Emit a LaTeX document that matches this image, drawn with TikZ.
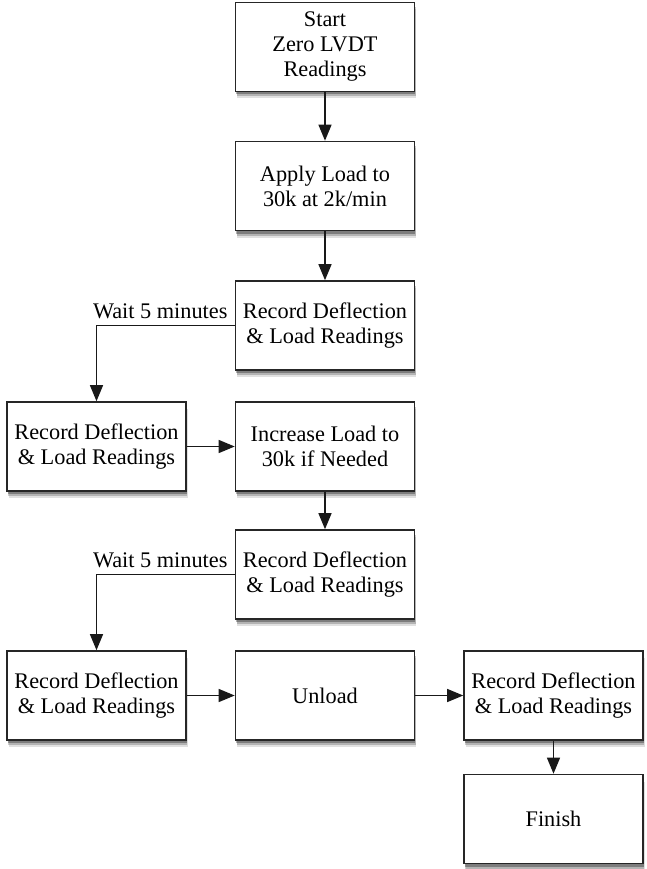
\documentclass[tikz,border=0pt]{standalone}
\usepackage{fontspec}
\setmainfont{Liberation Serif}
\usetikzlibrary{arrows.meta,shadows}
\begin{document}
\begin{tikzpicture}[x=1pt,y=-1pt,
  box/.style={draw=black!85, line width=1.6pt, fill=white, minimum width=179pt, minimum height=89pt,
    align=center, inner sep=0pt, font=\fontsize{22.3}{25}\selectfont,
    drop shadow={shadow xshift=1.5pt, shadow yshift=-7pt, opacity=0.12, fill=black},
    drop shadow={shadow xshift=1pt, shadow yshift=-5pt, opacity=0.2, fill=black},
    drop shadow={shadow xshift=0.5pt, shadow yshift=-3pt, opacity=0.3, fill=black}},
  conn/.style={line width=1.3pt, draw=black!90, -{Triangle[width=13pt,length=16pt]}},
  lbl/.style={font=\fontsize{22.3}{25}\selectfont, inner sep=0pt}]
\useasboundingbox (0,0) rectangle (646,869);
\node[box] (start) at (325,47) {Start\\Zero LVDT\\Readings};
\node[box] (apply) at (325,186) {Apply Load to\\30k at 2k/min};
\node[box] (rec1) at (325,325.5) {Record Deflection\\\& Load Readings};
\node[box] (left1) at (96.5,446.5) {Record Deflection\\\& Load Readings};
\node[box] (inc) at (325,446.5) {Increase Load to\\30k if Needed};
\node[box] (rec2) at (325,574.5) {Record Deflection\\\& Load Readings};
\node[box] (left2) at (96.5,695.5) {Record Deflection\\\& Load Readings};
\node[box] (unload) at (325,695.5) {Unload};
\node[box] (right) at (553.5,695.5) {Record Deflection\\\& Load Readings};
\node[box] (finish) at (553.5,819) {Finish};
\draw[conn] (start) -- (apply);
\draw[conn] (apply) -- (rec1);
\draw[conn] (rec1.west) -| (left1.north);
\node[lbl, anchor=base east] (w1) at ([xshift=-7pt,yshift=7pt]rec1.west) {Wait 5 minutes};
\draw[conn] (left1) -- (inc);
\draw[conn] (inc) -- (rec2);
\draw[conn] (rec2.west) -| (left2.north);
\node[lbl, anchor=base east] (w2) at ([xshift=-7pt,yshift=7pt]rec2.west) {Wait 5 minutes};
\draw[conn] (left2) -- (unload);
\draw[conn] (unload) -- (right);
\draw[conn] (right) -- (finish);
\end{tikzpicture}
\end{document}
